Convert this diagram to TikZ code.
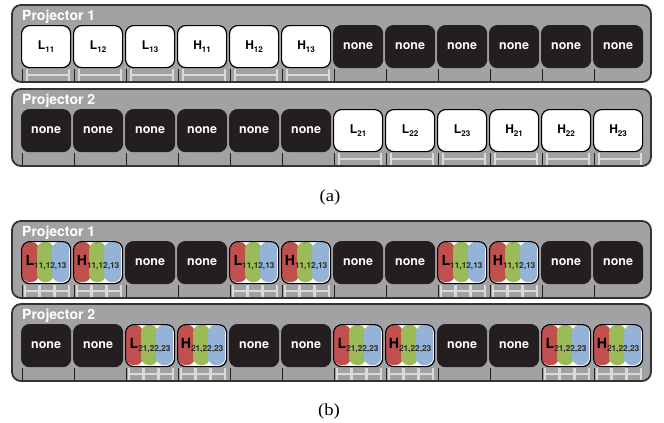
\documentclass[tikz,border=0pt]{standalone}
\usepackage{fontspec}
\newfontfamily\hv{TeX Gyre Heros}
\newfontfamily\tms{Liberation Serif}
\definecolor{panelgray}{HTML}{A2A2A4}
\definecolor{paneledge}{HTML}{333333}
\definecolor{boxblack}{HTML}{231F20}
\definecolor{tickgray}{HTML}{DADADA}
\definecolor{pred}{HTML}{C0504D}
\definecolor{pgreen}{HTML}{9BBB59}
\definecolor{pblue}{HTML}{95B3D7}
\definecolor{subgray}{HTML}{2A2A2A}
\tikzset{
  panel/.style={draw=paneledge, fill=panelgray, line width=1.8pt, rounded corners=9pt},
  ptitle/.style={anchor=base west, inner sep=0pt, text=white, font=\hv\bfseries\fontsize{14}{15}\selectfont},
  slotbox/.style={anchor=north west, minimum width=49pt, minimum height=42pt, inner sep=0pt, rounded corners=8pt, line width=1.2pt},
  nonebox/.style={slotbox, fill=boxblack, draw=boxblack, text=white, font=\hv\bfseries\fontsize{12.5}{13}\selectfont},
  whitebox/.style={slotbox, fill=white, draw=black, font=\hv\bfseries\fontsize{12}{13}\selectfont},
  rgbbox/.style={slotbox, draw=black, font=\hv\bfseries\fontsize{14}{15}\selectfont},
  blacktick/.style={draw=boxblack, line width=1.1pt},
  graytick/.style={draw=tickgray, line width=1.3pt},
  pill/.style={rounded corners=8pt},
  caption/.style={font=\tms\fontsize{17}{18}\selectfont},
}
\newcommand\labsub[1]{\raisebox{-0.35ex}{\fontsize{8}{9}\selectfont #1}}
\newcommand\rgbsub[1]{\raisebox{-0.3ex}{\color{subgray}\fontsize{8.3}{9}\selectfont #1}}
% name, slot index, panel top
\newcommand\NoneSlot[3]{%
  \pgfmathsetmacro\sx{21+52*#2}\pgfmathsetmacro\st{#3}%
  \node[nonebox] (#1) at (\sx,\st+20) {none};
  \draw[blacktick] (\sx+1.5,\st+64) -- (\sx+1.5,\st+76);
}
% name, slot index, panel top, letter, subscript
\newcommand\WhiteSlot[5]{%
  \pgfmathsetmacro\sx{21+52*#2}\pgfmathsetmacro\st{#3}%
  \node[whitebox] (#1) at (\sx,\st+20) {#4\labsub{#5}};
  \draw[blacktick] (\sx+1.5,\st+64) -- (\sx+1.5,\st+76);
  \draw[graytick] (\sx+6,\st+64) -- (\sx+6,\st+76) (\sx+6,\st+70) -- (\sx+48,\st+70) (\sx+48,\st+64) -- (\sx+48,\st+76);
}
\newcommand\RGBSlot[5]{%
  \pgfmathsetmacro\sx{21+52*#2}\pgfmathsetmacro\st{#3}%
  \fill[white, rounded corners=8pt] (\sx,\st+20) rectangle (\sx+49,\st+62);
  \fill[pred,pill] (\sx+0.8,\st+20.8) rectangle (\sx+18,\st+61.2);
  \fill[pgreen,pill] (\sx+16,\st+20.8) rectangle (\sx+33,\st+61.2);
  \fill[pblue,pill] (\sx+31,\st+20.8) rectangle (\sx+48.2,\st+61.2);
  \node[rgbbox] (#1) at (\sx,\st+20) {#4\rgbsub{#5}};
  \draw[blacktick] (\sx+1.5,\st+64) -- (\sx+1.5,\st+76);
  \foreach \a/\b in {4/18,19/33,34/48}{
    \draw[graytick] (\sx+\a,\st+64) -- (\sx+\a,\st+76) (\sx+\a,\st+70) -- (\sx+\b,\st+70) (\sx+\b,\st+64) -- (\sx+\b,\st+76);
  }
}
\newcommand\Panel[3]{% name, top, title
  \draw[panel] (12,#2) rectangle (651,#2+77);
  \node[ptitle] (#1) at (22,#2+15.5) {#3};
}
\begin{document}
\begin{tikzpicture}[x=1pt,y=-1pt]
\useasboundingbox (0,0) rectangle (664,423);
% ---------- (a) ----------
\Panel{ta1}{5}{Projector 1}
\WhiteSlot{a1s0}{0}{5}{L}{11}
\WhiteSlot{a1s1}{1}{5}{L}{12}
\WhiteSlot{a1s2}{2}{5}{L}{13}
\WhiteSlot{a1s3}{3}{5}{H}{11}
\WhiteSlot{a1s4}{4}{5}{H}{12}
\WhiteSlot{a1s5}{5}{5}{H}{13}
\foreach \i in {6,...,11}{\NoneSlot{a1s\i}{\i}{5}}
\Panel{ta2}{89}{Projector 2}
\foreach \i in {0,...,5}{\NoneSlot{a2s\i}{\i}{89}}
\WhiteSlot{a2s6}{6}{89}{L}{21}
\WhiteSlot{a2s7}{7}{89}{L}{22}
\WhiteSlot{a2s8}{8}{89}{L}{23}
\WhiteSlot{a2s9}{9}{89}{H}{21}
\WhiteSlot{a2s10}{10}{89}{H}{22}
\WhiteSlot{a2s11}{11}{89}{H}{23}
\node[caption] (capa) at (330,197) {\scalebox{1.1}[1]{(a)}};
% ---------- (b) ----------
\Panel{tb1}{221}{Projector 1}
\foreach \i in {0,4,8}{\RGBSlot{b1s\i}{\i}{221}{L}{11,12,13}}
\foreach \i in {1,5,9}{\RGBSlot{b1s\i}{\i}{221}{H}{11,12,13}}
\foreach \i in {2,3,6,7,10,11}{\NoneSlot{b1s\i}{\i}{221}}
\Panel{tb2}{304}{Projector 2}
\foreach \i in {2,6,10}{\RGBSlot{b2s\i}{\i}{304}{L}{21,22,23}}
\foreach \i in {3,7,11}{\RGBSlot{b2s\i}{\i}{304}{H}{21,22,23}}
\foreach \i in {0,1,4,5,8,9}{\NoneSlot{b2s\i}{\i}{304}}
\node[caption] (capb) at (329,411) {\scalebox{1.1}[1]{(b)}};
\end{tikzpicture}
\end{document}
